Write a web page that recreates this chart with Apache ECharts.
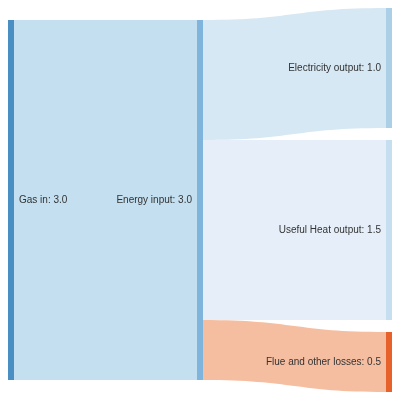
<!DOCTYPE html>
<html>
<head>
<meta charset="utf-8">
<script src="https://cdn.jsdelivr.net/npm/echarts@6/dist/echarts.min.js"></script>
<style>html,body{margin:0;padding:0;background:#fff;}#c{width:400px;height:400px;}</style>
</head>
<body>
<div id="c"></div>
<script>
var nodeNames = ['Gas in', 'Energy input', 'Electricity output', 'Useful Heat output', 'Flue and other losses'];
var nodeColors = ['#4a8fc4', '#7fb5dc', '#aacfe6', '#c6dff0', '#e6622a'];
var linkSources = ['Gas in', 'Energy input', 'Energy input', 'Energy input'];
var linkTargets = ['Energy input', 'Electricity output', 'Useful Heat output', 'Flue and other losses'];
var linkValues = [3.0, 1.0, 1.5, 0.5];
var linkColors = ['#c3dff0', '#d6e8f3', '#e6eff9', '#f5bea1'];

var nodeTotals = {};
nodeNames.forEach(function (n) { nodeTotals[n] = 0; });
linkTargets.forEach(function (t, i) { nodeTotals[t] += linkValues[i]; });
nodeTotals['Gas in'] = linkValues[0];

var nodes = nodeNames.map(function (n, i) {
  var d = {
    name: n,
    itemStyle: { color: nodeColors[i], borderWidth: 0 },
    label: { position: i === 0 ? 'right' : 'left' }
  };
  if (i < 2) { d.localY = 12 / 384; }
  return d;
});
var links = linkValues.map(function (v, i) {
  return {
    source: linkSources[i], target: linkTargets[i], value: v,
    lineStyle: { color: linkColors[i], opacity: 1 }
  };
});

var chart = echarts.init(document.getElementById('c'));
chart.setOption({
  animation: false,
  series: [{
    type: 'sankey',
    left: 8, right: 8, top: 8, bottom: 8,
    nodeWidth: 6,
    nodeGap: 12,
    nodeAlign: 'justify',
    layoutIterations: 0,
    data: nodes,
    links: links,
    lineStyle: { curveness: 0.5, opacity: 1 },
    emphasis: { disabled: true },
    label: {
      fontFamily: 'Liberation Sans, Arial, sans-serif',
      fontSize: 10,
      color: '#333',
      distance: 5,
      formatter: function (p) { return p.name + ': ' + nodeTotals[p.name].toFixed(1); }
    }
  }]
});
</script>
</body>
</html>
